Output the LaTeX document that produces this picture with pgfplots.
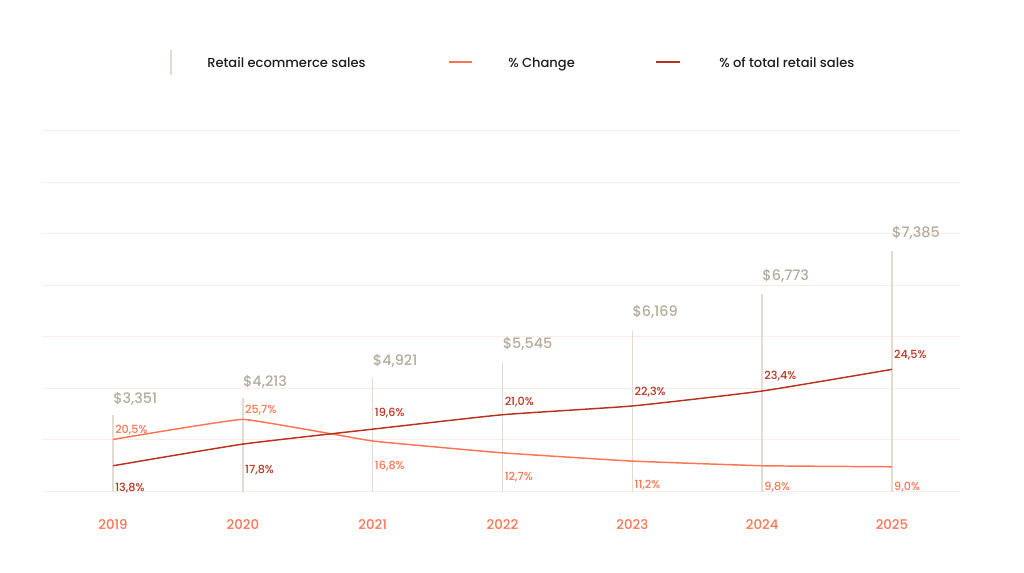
\documentclass[border=0pt]{standalone}
\usepackage{fontspec}
\setmainfont{Poppins Medium}
\usepackage{pgfplots}
\usepackage{pgfplotstable}
\pgfplotsset{compat=1.18}

\definecolor{coral}{HTML}{FF7452}
\definecolor{brick}{HTML}{B8321F}
\definecolor{sand}{HTML}{B4AC9A}
\definecolor{stem}{HTML}{E3DBCF}
\definecolor{gridpink}{HTML}{FDEBEA}
\definecolor{ink}{HTML}{1E1E1E}

% x = year index, top = drawn height of the stem, ly = label height, val = shown value
\pgfplotstableread{
x top ly val
0 1.49 1.81 3351
1 1.82 2.15 4213
2 2.20 2.54 4921
3 2.50 2.88 5545
4 3.12 3.49 6169
5 3.83 4.19 6773
6 4.66 5.03 7385
}\sales

\pgfplotstableread{
x y ly val
0 1.01 1.21 20.5
1 1.40 1.60 25.7
2 0.98 0.51 16.8
3 0.75 0.30 12.7
4 0.59 0.13 11.2
5 0.50 0.09 9.8
6 0.48 0.09 9.0
}\change

\pgfplotstableread{
x y ly val
0 0.50 0.08 13.8
1 0.92 0.43 17.8
2 1.21 1.53 19.6
3 1.49 1.74 21.0
4 1.66 1.94 22.3
5 1.95 2.25 23.4
6 2.37 2.66 24.5
}\share

\newcommand\pctlabel{\pgfmathprintnumber[fixed,fixed zerofill,precision=1,use comma]{\pgfplotspointmeta}\%}

\begin{document}
\begin{tikzpicture}
\begin{axis}[
    at={(31.5pt,61.1pt)}, anchor=south west,
    scale only axis, width=688.5pt, height=270.6pt,
    xmin=-0.547, xmax=6.524, ymin=0, ymax=7,
    clip=false,
    xtick={0,...,6},
    xticklabels={2019,2020,2021,2022,2023,2024,2025},
    ytick={0,...,7}, yticklabels={},
    ymajorgrids, grid style={gridpink, line width=0.75pt},
    axis line style={draw=none},
    major tick style={draw=none},
    xticklabel style={text=coral, font=\fontsize{10}{12}\selectfont, anchor=center, yshift=-24.4pt},
    /pgf/number format/assume math mode=true,
]
% sales stems
\addplot[ycomb, stem, line width=1pt, mark=none] table[x=x,y=top]{\sales};
\addplot[draw=none, mark=none, nodes near coords={\$\pgfmathprintnumber{\pgfplotspointmeta}},
    point meta=\thisrow{val},
    every node near coord/.append style={anchor=base west, inner sep=0pt, yshift=-4pt, text=sand, font=\fontsize{10.8}{13}\selectfont}]
    table[x=x,y=ly]{\sales};

% % change
\addplot[coral, line width=1.1pt, mark=none, smooth, tension=0.15] table[x=x,y=y]{\change};
\addplot[draw=none, mark=none, nodes near coords={\pctlabel},
    point meta=\thisrow{val},
    every node near coord/.append style={anchor=base west, inner sep=0pt, xshift=1.5pt, yshift=-3pt, text=coral, font=\fontsize{8.4}{10}\selectfont}]
    table[x=x,y=ly]{\change};

% % of total retail sales
\addplot[brick, line width=1.1pt, mark=none, smooth, tension=0.25] table[x=x,y=y]{\share};
\addplot[draw=none, mark=none, nodes near coords={\pctlabel},
    point meta=\thisrow{val},
    every node near coord/.append style={anchor=base west, inner sep=0pt, xshift=1.5pt, yshift=-3pt, text=brick, font=\fontsize{8.4}{10}\selectfont}]
    table[x=x,y=ly]{\share};
\end{axis}

% legend, laid out in pixel units measured from the top left
\begin{scope}[x=0.75pt, y=-0.75pt, yshift=429.75pt]
  \draw[stem, line width=1pt] (171,50) -- (171,75);
  \node[anchor=base west, inner sep=0pt, text=ink, font=\fontsize{9.8}{11}\selectfont] at (207,67.5) {Retail ecommerce sales};
  \draw[coral, line width=1.1pt] (449,62) -- (472,62);
  \node[anchor=base west, inner sep=0pt, text=ink, font=\fontsize{9.8}{11}\selectfont] at (508,67.5) {\% Change};
  \draw[brick, line width=1.1pt] (656,62) -- (680,62);
  \node[anchor=base west, inner sep=0pt, text=ink, font=\fontsize{9.8}{11}\selectfont] at (719,67.5) {\% of total retail sales};
\end{scope}

\pgfresetboundingbox
\path[use as bounding box] (0,0) rectangle (768pt,429.75pt);
\end{tikzpicture}
\end{document}
